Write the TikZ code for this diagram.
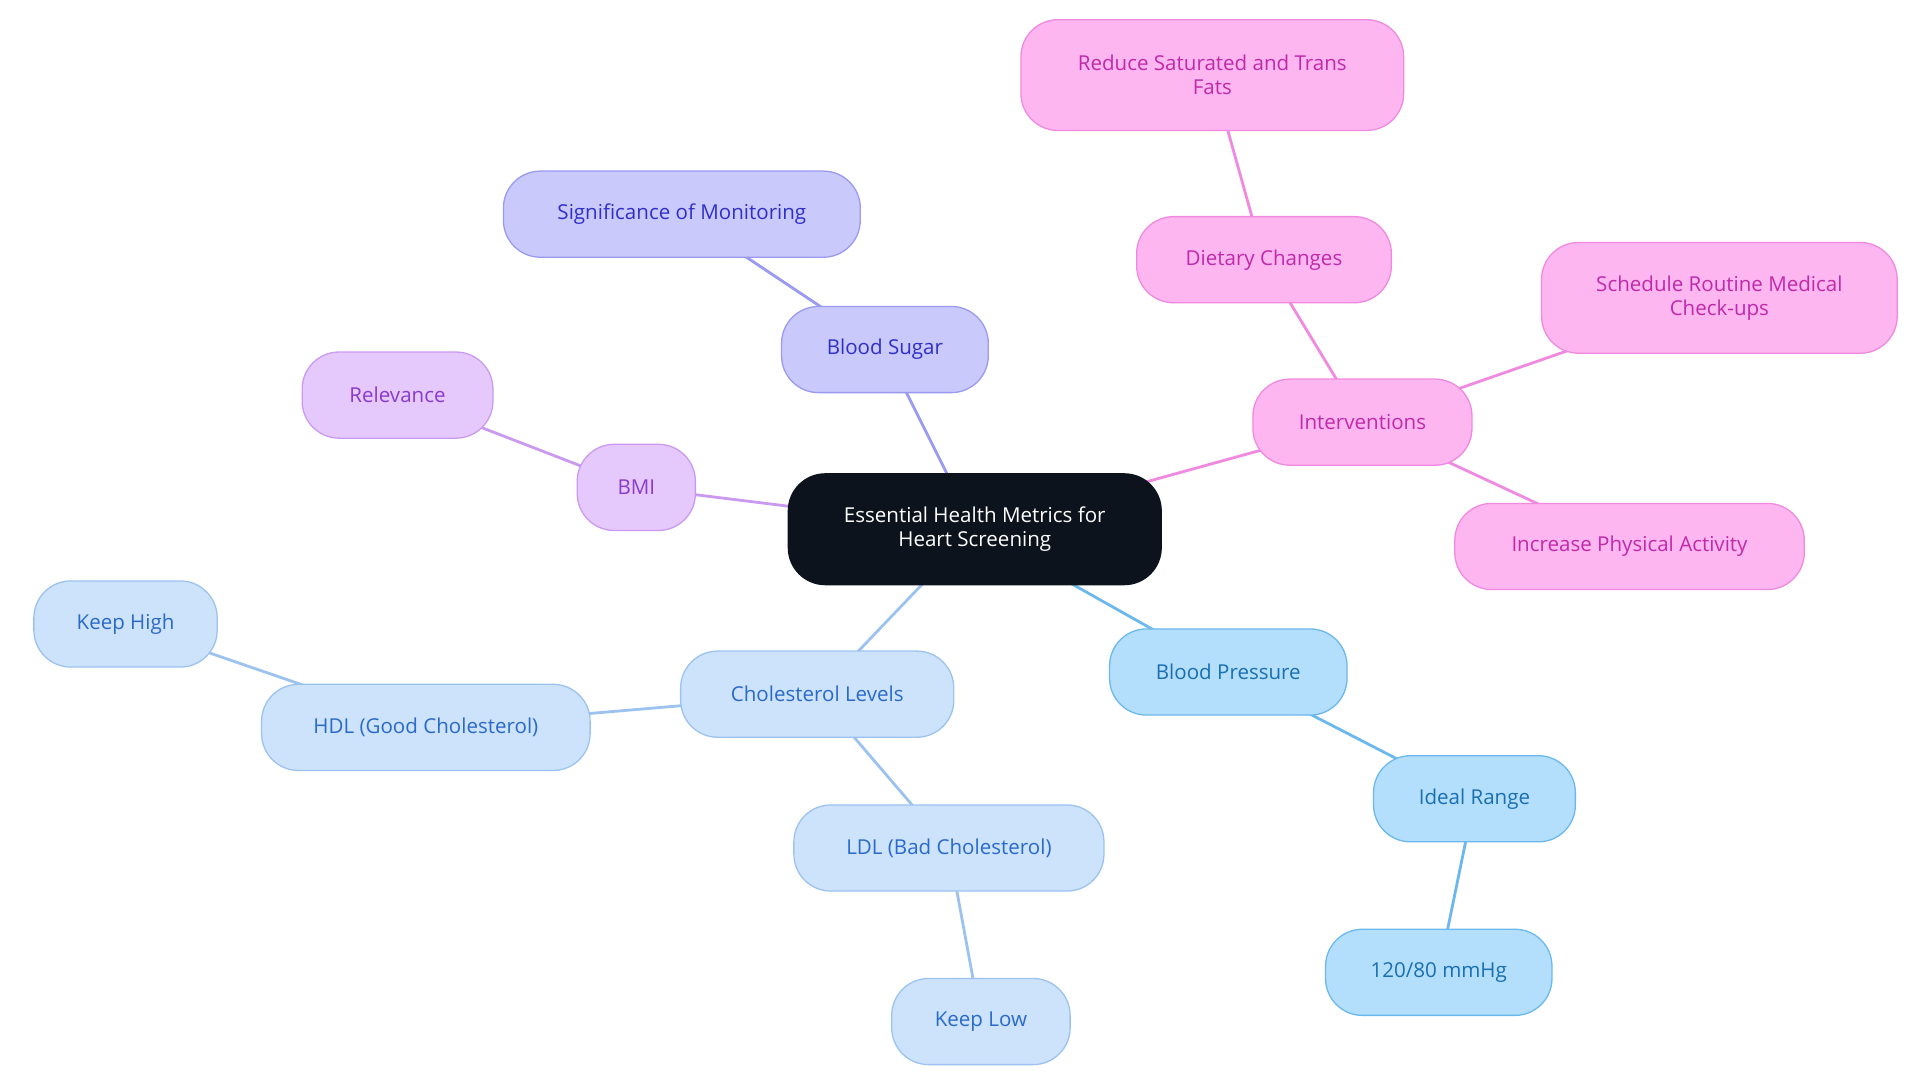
\documentclass[tikz,border=0pt]{standalone}
\usepackage{fontspec}
\setmainfont{Open Sans}
\usetikzlibrary{backgrounds}
\definecolor{ctrf}{HTML}{0D131C}
\definecolor{bsf}{HTML}{C9C9FC}\definecolor{bsd}{HTML}{9A9AF0}\definecolor{bst}{HTML}{3030C8}\definecolor{bsl}{HTML}{9A9AF0}
\definecolor{bmf}{HTML}{E6C9FC}\definecolor{bmd}{HTML}{C99AF0}\definecolor{bmt}{HTML}{8A3ACC}\definecolor{bml}{HTML}{C99AF0}
\definecolor{inf}{HTML}{FDB6F0}\definecolor{ind}{HTML}{F08AE0}\definecolor{int}{HTML}{C02AA8}\definecolor{inl}{HTML}{F08AE0}
\definecolor{bpf}{HTML}{B3DFFC}\definecolor{bpd}{HTML}{6CB8EC}\definecolor{bpt}{HTML}{1A6FB0}\definecolor{bpl}{HTML}{6CB8EC}
\definecolor{chf}{HTML}{CDE2FB}\definecolor{chd}{HTML}{9CC3EF}\definecolor{cht}{HTML}{2A6AC8}\definecolor{chl}{HTML}{9CC3EF}
\tikzset{x=0.02cm,y=-0.02cm,
 box/.style={rounded corners=0.6cm,draw,line width=0.6pt,align=center,font=\fontsize{9.5}{11}\selectfont,inner sep=0pt,minimum height=1.4cm},
 bs/.style={box,fill=bsf,draw=bsd,text=bst},
 bm/.style={box,fill=bmf,draw=bmd,text=bmt},
 iv/.style={box,fill=inf,draw=ind,text=int},
 bp/.style={box,fill=bpf,draw=bpd,text=bpt},
 ch/.style={box,fill=chf,draw=chd,text=cht},
 ln/.style={line width=1.3pt}}
\begin{document}
\begin{tikzpicture}
\useasboundingbox (0,0) rectangle (1560,880);
\node[box,fill=ctrf,draw=ctrf,text=white,minimum width=6.06cm,minimum height=1.8cm] (c) at (792,430) {Essential Health Metrics for\\Heart Screening};
\node[bs,minimum width=3.36cm] (bs) at (719,284) {Blood Sugar};
\node[bs,minimum width=5.8cm] (sm) at (554,174) {Significance of Monitoring};
\node[bm,minimum width=1.92cm] (bmi) at (517,396) {BMI};
\node[bm,minimum width=3.1cm] (rel) at (323,321) {Relevance};
\node[iv,minimum width=3.56cm] (iv) at (1107,343) {Interventions};
\node[iv,minimum width=4.14cm] (dc) at (1027,211) {Dietary Changes};
\node[iv,minimum width=6.22cm,minimum height=1.8cm] (rs) at (985,61) {Reduce Saturated and Trans\\Fats};
\node[iv,minimum width=5.78cm,minimum height=1.8cm] (sr) at (1397,242) {Schedule Routine Medical\\Check-ups};
\node[iv,minimum width=5.68cm] (ipa) at (1324,444) {Increase Physical Activity};
\node[bp,minimum width=3.86cm] (bp) at (998,546) {Blood Pressure};
\node[bp,minimum width=3.28cm] (ir) at (1198,649) {Ideal Range};
\node[bp,minimum width=3.68cm] (mm) at (1169,790) {120/80 mmHg};
\node[ch,minimum width=4.44cm] (ch) at (664,564) {Cholesterol Levels};
\node[ch,minimum width=5.34cm] (hdl) at (346,591) {HDL (Good Cholesterol)};
\node[ch,minimum width=2.98cm] (kh) at (102,507) {Keep High};
\node[ch,minimum width=5.04cm] (ldl) at (771,689) {LDL (Bad Cholesterol)};
\node[ch,minimum width=2.9cm] (kl) at (797,830) {Keep Low};
\begin{pgfonlayer}{background}
\draw[ln,bsl] (c.center)--(bs.center) (bs.center)--(sm.center);
\draw[ln,bml] (c.center)--(bmi.center) (bmi.center)--(rel.center);
\draw[ln,inl] (c.center)--(iv.center) (iv.center)--(dc.center) (dc.center)--(rs.center) (iv.center)--(sr.center) (iv.center)--(ipa.center);
\draw[ln,bpl] (c.center)--(bp.center) (bp.center)--(ir.center) (ir.center)--(mm.center);
\draw[ln,chl] (c.center)--(ch.center) (ch.center)--(hdl.center) (hdl.center)--(kh.center) (ch.center)--(ldl.center) (ldl.center)--(kl.center);
\end{pgfonlayer}
\end{tikzpicture}
\end{document}
